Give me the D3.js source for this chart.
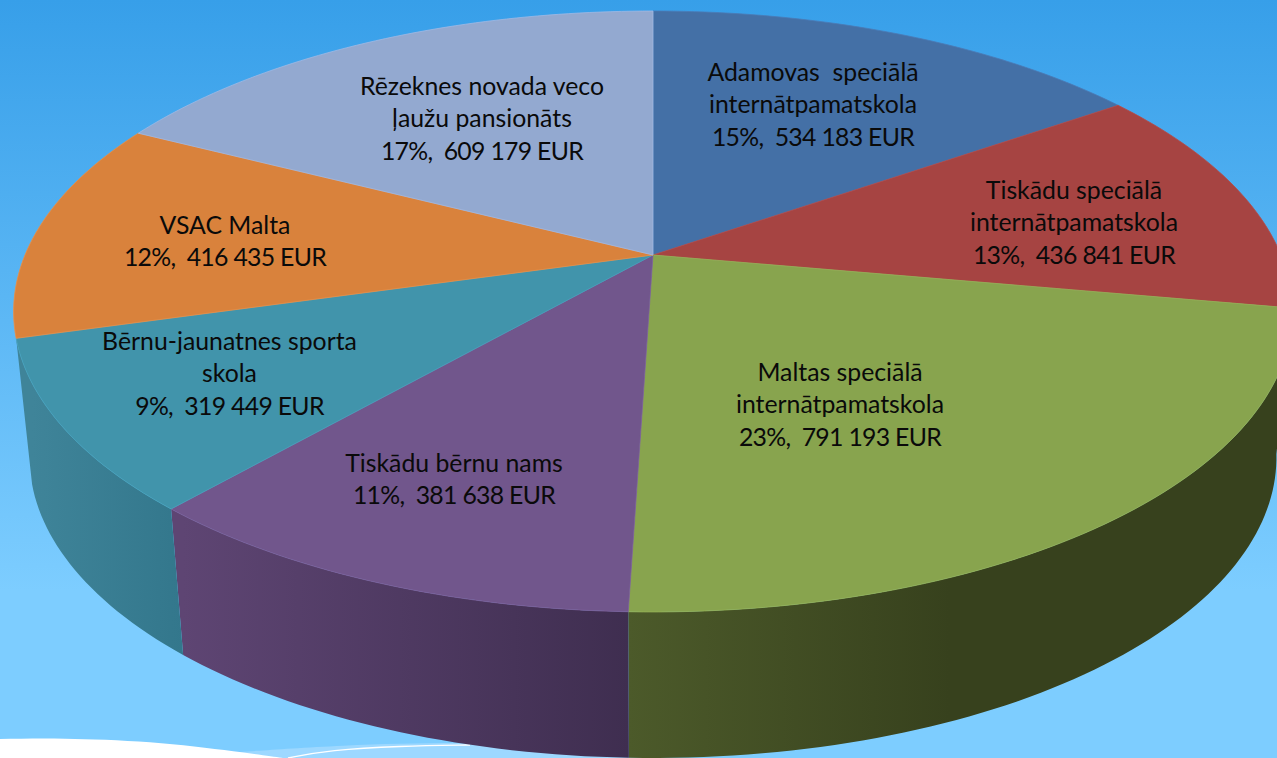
<!DOCTYPE html>
<html><head><meta charset="utf-8">
<script src="https://cdnjs.cloudflare.com/ajax/libs/d3/7.8.5/d3.min.js"></script>
<style>html,body{margin:0;padding:0;overflow:hidden;background:#7dcdff}svg{display:block}
text{font-family:Lato,"Open Sans",sans-serif;font-size:24.8px;fill:#0a0a0a;white-space:pre}
text.num{letter-spacing:-0.7px}</style>
</head><body><svg id="c" width="1277" height="758"></svg>
<script>
const categories = ["Adamovas speciālā internātpamatskola","Tiskādu speciālā internātpamatskola","Maltas speciālā internātpamatskola","Tiskādu bērnu nams","Bērnu-jaunatnes sporta skola","VSAC Malta","Rēzeknes novada veco ļaužu pansionāts"];
const values = [534183,436841,791193,381638,319449,416435,609179];
const labelLines = [
  ["Adamovas  speciālā","internātpamatskola","15%,  534 183 EUR"],
  ["Tiskādu speciālā","internātpamatskola","13%,  436 841 EUR"],
  ["Maltas speciālā","internātpamatskola","23%,  791 193 EUR"],
  ["Tiskādu bērnu nams","11%,  381 638 EUR"],
  ["Bērnu-jaunatnes sporta","skola","9%,  319 449 EUR"],
  ["VSAC Malta","12%,  416 435 EUR"],
  ["Rēzeknes novada veco","ļaužu pansionāts","17%,  609 179 EUR"]
];
const topColors = ["#4470a6","#a64442","#88a44e","#71568c","#4194ab","#d9823c","#93a9d0"];
const wallLight = {2:"#4c5a2a",3:"#5e4573",4:"#3f8499"};
const wallDark  = {2:"#37411d",3:"#3f2e50",4:"#33778c"};
const labelCentres = [[813,72],[1074,190],[840,372],[454,463],[229.5,341],[225,225],[482,86]];

const W=1277,H=758, cx=653, cy=255, k=628, c=-0.188, a=241.9;
const depth=146, shrink=0.975;
const svg=d3.select("#c"), defs=svg.append("defs");

const bg=defs.append("linearGradient").attr("id","bg").attr("x1",0).attr("y1",0).attr("x2",0).attr("y2",1);
bg.append("stop").attr("offset",0).attr("stop-color","#379fe9");
bg.append("stop").attr("offset",0.78).attr("stop-color","#7dcdff");
bg.append("stop").attr("offset",1).attr("stop-color","#7dcdff");
svg.append("rect").attr("width",W).attr("height",H).attr("fill","url(#bg)");

// decoration of the slide background
const deco=d3.line().curve(d3.curveBasis);
svg.append("path").attr("d",deco([[240,752],[340,745],[460,742],[560,745],[640,758]])+"L640,758L240,758Z").attr("fill","#9dd8ff");
svg.append("path").attr("d","M0,739"+deco([[0,739],[60,738],[150,741],[240,752],[290,759]]).replace(/^M[^C]*/,"")+"L0,758Z").attr("fill","#fff");
svg.append("path").attr("d",deco([[288,758],[330,750],[400,746],[470,745]])).attr("fill","none").attr("stroke","#fff").attr("stroke-width",1.3);

const top3=t=>{const u=Math.sin(t),v=-Math.cos(t),d=1+c*v;return [cx+k*u/d,(a*v+cy)/d];};
const low3=t=>{const p=top3(t);return [cx+(p[0]-cx)*shrink,p[1]+depth];};
const arcPts=(f,s,e)=>{const n=Math.max(2,Math.ceil((e-s)/0.02));return d3.range(n+1).map(i=>f(s+(e-s)*i/n));};
const line=d3.line();
const arcs=d3.pie().sort(null).value(d=>d)(values);
const frontArcs=arcs.filter(d=>wallLight[d.index]);

frontArcs.forEach(d=>{
  const i=d.index;
  const g=defs.append("linearGradient").attr("id","w"+i).attr("gradientUnits","userSpaceOnUse");
  const xs=arcPts(low3,d.startAngle,d.endAngle).map(p=>p[0]);
  let x1=d3.min(xs),x2=d3.max(xs);
  if(i===2){x1=628;x2=950;}
  g.attr("x1",x1).attr("x2",x2).attr("y1",0).attr("y2",0);
  g.append("stop").attr("offset",0).attr("stop-color",wallLight[i]);
  g.append("stop").attr("offset",1).attr("stop-color",wallDark[i]);
});

svg.append("g").selectAll("path").data(frontArcs).join("path")
  .attr("d",d=>line(arcPts(top3,d.startAngle,d.endAngle).concat(arcPts(low3,d.startAngle,d.endAngle).reverse()))+"Z")
  .attr("fill",d=>`url(#w${d.index})`);

svg.append("g").selectAll("path").data(arcs).join("path")
  .attr("d",d=>line([[cx,cy]].concat(arcPts(top3,d.startAngle,d.endAngle)))+"Z")
  .attr("fill",(d,i)=>topColors[i])
  .attr("stroke",(d,i)=>d3.color(topColors[i]).brighter(0.25))
  .attr("stroke-width",0.8);

const lh=32.5;
const lg=svg.append("g").attr("text-anchor","middle");
labelLines.forEach((ls,i)=>{
  ls.forEach((s,j)=>lg.append("text").attr("class",/EUR$/.test(s)?"num":null).attr("x",labelCentres[i][0]).attr("y",labelCentres[i][1]+lh*j).attr("dy","0.35em").text(s));
});
</script></body></html>
